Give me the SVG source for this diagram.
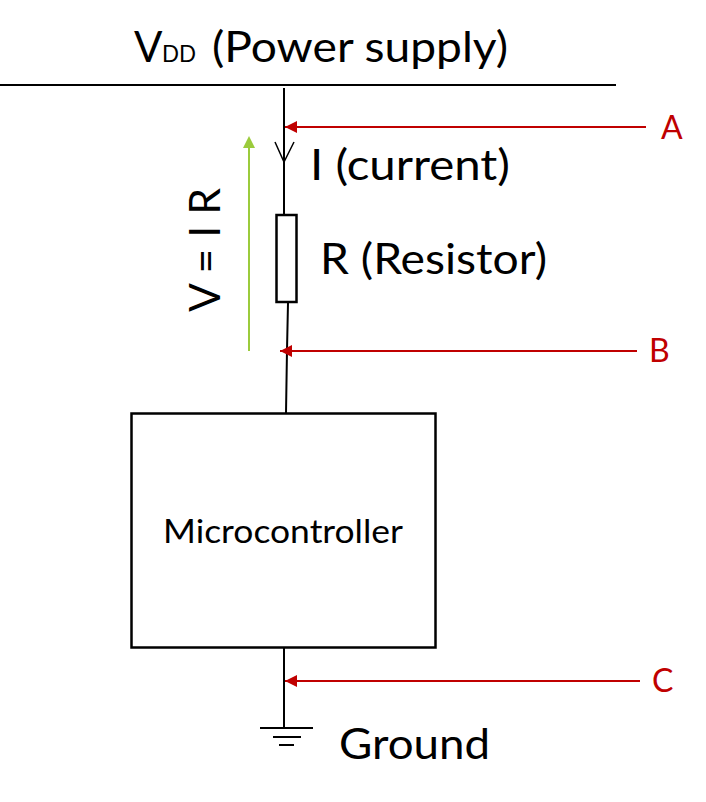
<svg xmlns="http://www.w3.org/2000/svg" width="706" height="802" viewBox="0 0 706 802">
<style>
.t{font-family:"Lato","Open Sans","Liberation Sans",sans-serif;fill:#000}
.r{font-family:"Lato","Open Sans","Liberation Sans",sans-serif;fill:#c00000;font-size:32px}
.w{fill:none;stroke:#000;stroke-width:2}
.red{fill:none;stroke:#c00000;stroke-width:2}
</style>
<defs><marker id="ah" markerUnits="userSpaceOnUse" markerWidth="13" markerHeight="12" refX="12" refY="6" orient="auto"><path d="M0 0L12 6L0 12Z" fill="#c00000"/></marker></defs>
<rect width="706" height="802" fill="#fff"/>
<g id="connectors">
<path class="w" d="M0 85H616"/>
<path class="w" d="M284 88V214"/>
<path class="w" d="M288 303L287 350L286 413"/>
<path class="w" d="M284 648V727"/>
<path fill="none" stroke="#000" stroke-width="1.5" d="M275 142L284 162L294 142"/>
<path class="red" d="M646 127H285" marker-end="url(#ah)"/>
<path class="red" d="M637 351H280" marker-end="url(#ah)"/>
<path class="red" d="M640 681H285" marker-end="url(#ah)"/>
<path fill="none" stroke="#9bcb3c" stroke-width="2" d="M249 351V146"/>
<path fill="#9bcb3c" d="M243 148L249 136L255 148Z"/>
</g>
<g id="vdd"><text class="t" y="62" font-size="42"><tspan x="134">V</tspan><tspan x="162" font-size="24" textLength="34" lengthAdjust="spacingAndGlyphs">DD</tspan><tspan x="212" textLength="296" lengthAdjust="spacingAndGlyphs">(Power supply)</tspan></text></g>
<g id="current"><text class="t" x="310" y="180" font-size="42" textLength="200" lengthAdjust="spacingAndGlyphs">I (current)</text></g>
<g id="resistor"><rect x="276.500" y="215" width="20" height="87" fill="#fff" stroke="#000" stroke-width="2.500"/>
<text class="t" x="320" y="274" font-size="42" textLength="227" lengthAdjust="spacingAndGlyphs">R (Resistor)</text></g>
<g id="voltage"><text class="t" transform="translate(220 312) rotate(-90)" font-size="42" textLength="124" lengthAdjust="spacingAndGlyphs">V = I R</text></g>
<g id="microcontroller"><rect x="131.500" y="413.500" width="304" height="234" fill="#fff" stroke="#000" stroke-width="2.500"/>
<text class="t" x="163" y="543" font-size="33" textLength="240" lengthAdjust="spacingAndGlyphs">Microcontroller</text></g>
<g id="ground"><path class="w" d="M260 728H313M273 737H301M279 745H294"/>
<text class="t" x="339" y="759" font-size="42" textLength="151" lengthAdjust="spacingAndGlyphs">Ground</text></g>
<g id="label-a"><text class="r" x="661" y="139">A</text></g>
<g id="label-b"><text class="r" x="649" y="362">B</text></g>
<g id="label-c"><text class="r" x="652" y="692">C</text></g>
</svg>
